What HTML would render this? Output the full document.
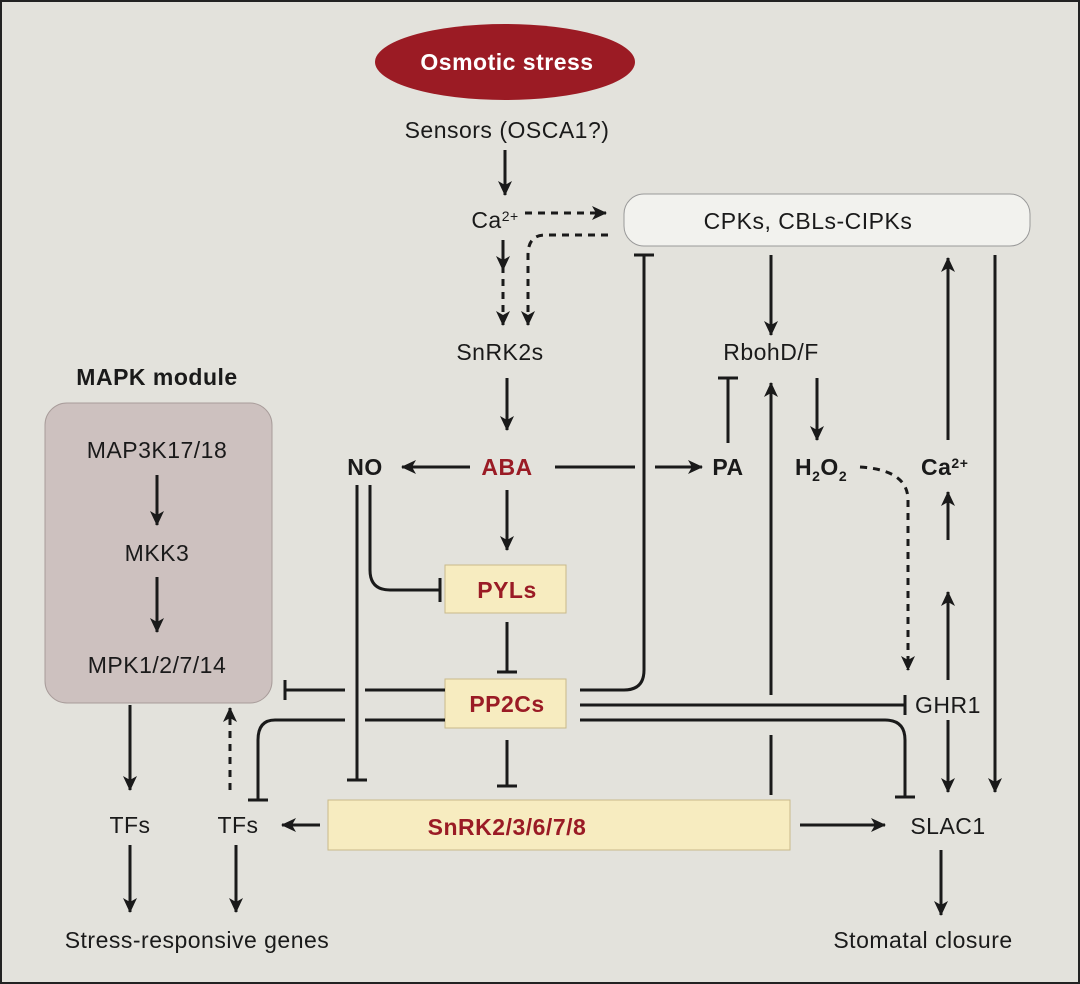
<!DOCTYPE html>
<html><head><meta charset="utf-8"><style>
body{margin:0;background:#e3e2dc}
svg{display:block}
text{font-family:"Liberation Sans",sans-serif;fill:#1a1a1a;letter-spacing:0.5px}
.b{font-weight:bold}
.r{fill:#9a1b25;font-weight:bold}
</style></head><body>
<svg width="1080" height="984" viewBox="0 0 1080 984">
<defs>
<marker id="a" markerWidth="16" markerHeight="14" refX="14" refY="7" orient="auto" markerUnits="userSpaceOnUse"><path d="M0,0 L15,7 L0,14 L4,7z" fill="#1a1a1a"/></marker>
</defs>
<rect x="1" y="1" width="1078" height="982" fill="#e3e2dc" stroke="#222" stroke-width="2"/>
<ellipse cx="505" cy="62" rx="130" ry="38" fill="#9b1b24"/>
<text x="507" y="70" text-anchor="middle" font-size="23" class="b" style="fill:#fff">Osmotic stress</text>
<text x="507" y="138" text-anchor="middle" font-size="23">Sensors (OSCA1?)</text>
<rect x="624" y="194" width="406" height="52" rx="20" fill="#f2f2ee" stroke="#999"/>
<text x="808" y="229" text-anchor="middle" font-size="23">CPKs, CBLs-CIPKs</text>
<text x="495" y="228" text-anchor="middle" font-size="23">Ca<tspan font-size="14" dy="-7">2+</tspan></text>
<text x="500" y="360" text-anchor="middle" font-size="23">SnRK2s</text>
<text x="771" y="360" text-anchor="middle" font-size="23">RbohD/F</text>
<text x="507" y="475" text-anchor="middle" font-size="23" class="r">ABA</text>
<text x="365" y="475" text-anchor="middle" font-size="23" class="b">NO</text>
<text x="728" y="475" text-anchor="middle" font-size="23" class="b">PA</text>
<text x="795" y="475" font-size="23" class="b">H<tspan font-size="14" dy="6">2</tspan><tspan dy="-6">O</tspan><tspan font-size="14" dy="6">2</tspan></text>
<text x="921" y="475" font-size="23" class="b">Ca<tspan font-size="14" dy="-7">2+</tspan></text>
<text x="157" y="385" text-anchor="middle" font-size="23" class="b">MAPK module</text>
<rect x="45" y="403" width="227" height="300" rx="22" fill="#cdc1bf" stroke="#a89c9a"/>
<text x="157" y="458" text-anchor="middle" font-size="23">MAP3K17/18</text>
<text x="157" y="561" text-anchor="middle" font-size="23">MKK3</text>
<text x="157" y="673" text-anchor="middle" font-size="23">MPK1/2/7/14</text>
<rect x="445" y="565" width="121" height="48" fill="#f7ecc0" stroke="#c9b98a"/>
<text x="507" y="598" text-anchor="middle" font-size="23" class="r">PYLs</text>
<rect x="445" y="679" width="121" height="49" fill="#f7ecc0" stroke="#c9b98a"/>
<text x="507" y="712" text-anchor="middle" font-size="23" class="r">PP2Cs</text>
<rect x="328" y="800" width="462" height="50" fill="#f7ecc0" stroke="#c9b98a"/>
<text x="507" y="835" text-anchor="middle" font-size="23" class="r">SnRK2/3/6/7/8</text>
<text x="948" y="713" text-anchor="middle" font-size="23">GHR1</text>
<text x="948" y="834" text-anchor="middle" font-size="23">SLAC1</text>
<text x="238" y="833" text-anchor="middle" font-size="23">TFs</text>
<text x="130" y="833" text-anchor="middle" font-size="23">TFs</text>
<text x="197" y="948" text-anchor="middle" font-size="23">Stress-responsive genes</text>
<text x="923" y="948" text-anchor="middle" font-size="23">Stomatal closure</text>
<g stroke="#1a1a1a" stroke-width="3" fill="none">
<path d="M505,150V195" marker-end="url(#a)"/>
<g stroke-dasharray="7,6">
<path d="M525,213H606" marker-end="url(#a)"/>
<path d="M608,235H545Q528,235 528,255V325" marker-end="url(#a)"/>
<path d="M503,240V325" marker-end="url(#a)"/>
<path d="M860,467Q908,470 908,500V670" marker-end="url(#a)"/>
<path d="M230,790V708" marker-end="url(#a)"/>
</g>
<path d="M503,240V270" marker-end="url(#a)"/>
<path d="M507,378V430" marker-end="url(#a)"/>
<path d="M470,467H402" marker-end="url(#a)"/>
<path d="M555,467H635M655,467H702" marker-end="url(#a)"/>
<path d="M644,255V670Q644,690 624,690H580"/><path d="M634,255H654"/>
<path d="M771,255V335" marker-end="url(#a)"/>
<path d="M728,443V378M718,378H738"/>
<path d="M771,695V383" marker-end="url(#a)"/>
<path d="M817,378V440" marker-end="url(#a)"/>
<path d="M948,440V258" marker-end="url(#a)"/>
<path d="M948,540V492" marker-end="url(#a)"/>
<path d="M948,680V592" marker-end="url(#a)"/>
<path d="M948,720V792" marker-end="url(#a)"/>
<path d="M995,255V792" marker-end="url(#a)"/>
<path d="M580,705H905M905,695V715"/>
<path d="M580,720H885Q905,720 905,740V797M895,797H915"/>
<path d="M445,690H365M345,690H285M285,680V700"/>
<path d="M445,720H365M345,720H275Q258,720 258,740V800M248,800H268"/>
<path d="M357,485V780M347,780H367"/>
<path d="M370,485V570Q370,590 390,590H440M440,578V602"/>
<path d="M507,490V550" marker-end="url(#a)"/>
<path d="M507,622V672M497,672H517"/>
<path d="M507,740V786M497,786H517"/>
<path d="M771,735V795"/>
<path d="M320,825H282" marker-end="url(#a)"/>
<path d="M800,825H885" marker-end="url(#a)"/>
<path d="M157,475V525" marker-end="url(#a)"/>
<path d="M157,577V632" marker-end="url(#a)"/>
<path d="M130,705V790" marker-end="url(#a)"/>
<path d="M130,845V912" marker-end="url(#a)"/>
<path d="M236,845V912" marker-end="url(#a)"/>
<path d="M941,850V915" marker-end="url(#a)"/>
</g>
</svg>
</body></html>
